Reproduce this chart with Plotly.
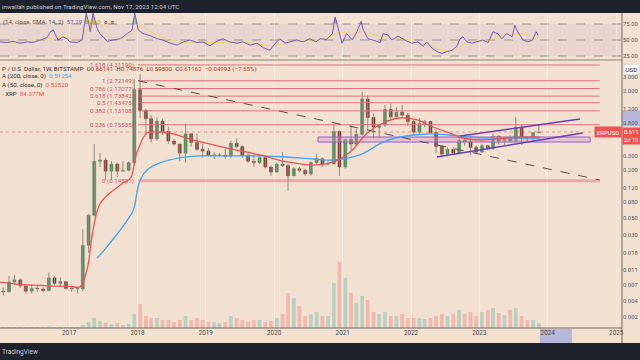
import math
from datetime import datetime, timedelta
import plotly.graph_objects as go

# ---------------- data ----------------
months = [f"{y}-{m:02d}" for y in range(2016, 2024) for m in range(1, 13)][:95]
opens = [0.0059, 0.0058, 0.0077, 0.0082, 0.0069, 0.0059, 0.0064, 0.0063, 0.0060, 0.0087, 0.0074, 0.0078,
         0.0064, 0.0063, 0.0063, 0.0225, 0.0540, 0.2600, 0.2700, 0.1950, 0.2400, 0.1950, 0.2000, 0.2500,
         2.10, 1.15, 0.90, 0.50, 0.84, 0.62, 0.47, 0.43, 0.33, 0.58, 0.45, 0.37,
         0.35, 0.31, 0.31, 0.31, 0.30, 0.44, 0.40, 0.31, 0.26, 0.25, 0.29, 0.22,
         0.19, 0.24, 0.23, 0.17, 0.21, 0.20, 0.18, 0.25, 0.28, 0.24, 0.24, 0.62,
         0.22, 0.49, 0.43, 0.57, 1.60, 0.93, 0.70, 0.75, 1.18, 0.95, 1.09, 1.00,
         0.83, 0.61, 0.78, 0.83, 0.60, 0.40, 0.32, 0.37, 0.33, 0.48, 0.46, 0.39,
         0.34, 0.41, 0.38, 0.54, 0.47, 0.51, 0.47, 0.70, 0.52, 0.51, 0.60]
highs = [0.0066, 0.0092, 0.0095, 0.0086, 0.0070, 0.0072, 0.0069, 0.0066, 0.0102, 0.0092, 0.0088, 0.0079,
         0.0070, 0.0066, 0.0360, 0.0560, 0.4300, 0.3300, 0.2900, 0.2600, 0.2500, 0.2600, 0.2600, 2.850,
         3.30, 1.20, 0.99, 0.94, 0.90, 0.71, 0.50, 0.43, 0.78, 0.59, 0.58, 0.43,
         0.38, 0.34, 0.33, 0.38, 0.47, 0.51, 0.41, 0.33, 0.32, 0.31, 0.31, 0.23,
         0.25, 0.34, 0.24, 0.22, 0.22, 0.21, 0.26, 0.32, 0.29, 0.26, 0.78, 0.64,
         0.50, 0.76, 0.66, 1.96, 1.77, 1.05, 0.76, 1.35, 1.41, 1.25, 1.35, 1.06,
         0.87, 0.91, 0.87, 0.85, 0.65, 0.42, 0.39, 0.39, 0.56, 0.51, 0.55, 0.41,
         0.43, 0.42, 0.58, 0.55, 0.53, 0.56, 0.94, 0.75, 0.53, 0.60, 0.75]
lows = [0.0052, 0.0057, 0.0070, 0.0065, 0.0055, 0.0055, 0.0058, 0.0057, 0.0059, 0.0071, 0.0068, 0.0062,
        0.0058, 0.0055, 0.0059, 0.0180, 0.0520, 0.2200, 0.1500, 0.1500, 0.1650, 0.1900, 0.1950, 0.2300,
        0.92, 0.56, 0.45, 0.47, 0.56, 0.43, 0.41, 0.26, 0.25, 0.40, 0.35, 0.29,
        0.30, 0.28, 0.30, 0.28, 0.29, 0.38, 0.29, 0.25, 0.22, 0.24, 0.21, 0.17,
        0.19, 0.22, 0.11, 0.17, 0.19, 0.17, 0.17, 0.24, 0.22, 0.23, 0.24, 0.17,
        0.21, 0.36, 0.41, 0.55, 0.65, 0.51, 0.51, 0.71, 0.85, 0.92, 0.91, 0.73,
        0.55, 0.58, 0.70, 0.60, 0.33, 0.29, 0.30, 0.32, 0.32, 0.41, 0.31, 0.33,
        0.34, 0.36, 0.36, 0.42, 0.42, 0.45, 0.46, 0.42, 0.47, 0.48, 0.59]
closes = [0.0058, 0.0077, 0.0082, 0.0069, 0.0059, 0.0064, 0.0063, 0.0060, 0.0087, 0.0074, 0.0078, 0.0064,
          0.0063, 0.0063, 0.0225, 0.0540, 0.2600, 0.2700, 0.1950, 0.2400, 0.1950, 0.2000, 0.2500, 2.100,
          1.15, 0.90, 0.50, 0.84, 0.62, 0.47, 0.43, 0.33, 0.58, 0.45, 0.37, 0.35,
          0.31, 0.31, 0.31, 0.30, 0.44, 0.40, 0.31, 0.26, 0.25, 0.29, 0.22, 0.19,
          0.24, 0.23, 0.17, 0.21, 0.20, 0.18, 0.25, 0.28, 0.24, 0.24, 0.62, 0.22,
          0.49, 0.43, 0.57, 1.60, 0.93, 0.70, 0.75, 1.18, 0.95, 1.09, 1.00, 0.83,
          0.61, 0.78, 0.83, 0.60, 0.40, 0.32, 0.37, 0.33, 0.48, 0.46, 0.39, 0.34,
          0.41, 0.38, 0.54, 0.47, 0.51, 0.47, 0.70, 0.52, 0.51, 0.60, 0.61162]
volume_m = [40, 40, 40, 40, 40, 40, 40, 40, 60, 40, 40, 40,
            40, 40, 120, 240, 400, 280, 200, 160, 200, 120, 160, 560,
            960, 480, 400, 400, 320, 320, 240, 320, 480, 320, 400, 320,
            240, 240, 200, 240, 480, 400, 320, 240, 320, 320, 240, 280,
            400, 560, 1400, 1200, 880, 480, 560, 640, 480, 480, 1800, 2640,
            2000, 1400, 1000, 1280, 1120, 640, 560, 640, 480, 480, 560, 400,
            400, 400, 360, 400, 480, 560, 480, 560, 720, 560, 640, 480,
            640, 720, 800, 600, 520, 720, 800, 480, 320, 320, 200]

sma200_years = [2017.41, 2017.60, 2017.94, 2017.99, 2018.04, 2018.14, 2018.33, 2018.62, 2018.92, 2019.40,
                2019.79, 2020.19, 2020.57, 2020.86, 2021.25, 2021.59, 2021.84, 2022.23, 2022.57, 2023.05,
                2023.55, 2023.89]
sma200_vals = [0.0155, 0.0241, 0.063, 0.103, 0.151, 0.202, 0.248, 0.287, 0.304, 0.304,
               0.304, 0.295, 0.278, 0.270, 0.313, 0.456, 0.528, 0.576, 0.560, 0.513,
               0.513, 0.5125]
sma50_years = [2015.99, 2016.30, 2016.70, 2017.00, 2017.16, 2017.26, 2017.35, 2017.45, 2017.60, 2017.79,
               2017.90, 2017.99, 2018.14, 2018.29, 2018.48, 2018.81, 2019.31, 2019.79, 2020.19, 2020.57,
               2020.86, 2021.11, 2021.36, 2021.59, 2021.84, 2022.09, 2022.32, 2022.57, 2022.76, 2023.05,
               2023.40, 2023.78, 2023.89]
sma50_vals = [0.0077, 0.0072, 0.0069, 0.0068, 0.0067, 0.0109, 0.0351, 0.0750, 0.103, 0.138,
              0.160, 0.331, 0.593, 0.611, 0.593, 0.484, 0.383, 0.313, 0.255, 0.233,
              0.255, 0.341, 0.593, 0.795, 0.919, 0.867, 0.707, 0.593, 0.513, 0.484,
              0.513, 0.528, 0.5252]

rsi_years = [2015.99, 2016.09, 2016.18, 2016.28, 2016.39, 2016.47, 2016.58, 2016.68, 2016.72, 2016.77,
             2016.80, 2016.84, 2016.91, 2016.97, 2017.01, 2017.12, 2017.19, 2017.22, 2017.25, 2017.28,
             2017.31, 2017.35, 2017.38, 2017.41, 2017.45, 2017.50, 2017.56, 2017.64, 2017.75, 2017.85,
             2017.92, 2017.96, 2018.01, 2018.08, 2018.18, 2018.29, 2018.37, 2018.48, 2018.58, 2018.67,
             2018.77, 2018.87, 2018.96, 2019.06, 2019.16, 2019.25, 2019.35, 2019.46, 2019.54, 2019.65,
             2019.75, 2019.84, 2019.94, 2020.01, 2020.08, 2020.16, 2020.23, 2020.33, 2020.42, 2020.52,
             2020.61, 2020.67, 2020.77, 2020.85, 2020.89, 2020.93, 2020.99, 2021.06, 2021.14, 2021.21,
             2021.27, 2021.30, 2021.37, 2021.44, 2021.55, 2021.59, 2021.66, 2021.72, 2021.81, 2021.91,
             2022.01, 2022.10, 2022.18, 2022.23, 2022.31, 2022.38, 2022.45, 2022.53, 2022.60, 2022.67,
             2022.72, 2022.76, 2022.82, 2022.89, 2022.96, 2023.05, 2023.13, 2023.20, 2023.27, 2023.33,
             2023.40, 2023.48, 2023.52, 2023.56, 2023.64, 2023.71, 2023.78, 2023.83, 2023.86]
rsi_vals = [47, 46, 48, 45, 47, 46, 50, 54, 62, 66,
            58, 50, 55, 52, 47, 46, 50, 70, 92, 80,
            63, 92, 78, 68, 60, 55, 48, 50, 52, 60,
            65, 92, 66, 60, 57, 52, 50, 45, 42, 47,
            50, 46, 47, 41, 48, 52, 47, 45, 47, 42,
            45, 38, 34, 44, 52, 45, 47, 50, 47, 52,
            47, 52, 51, 60, 86, 68, 45, 60, 50, 63,
            79, 66, 52, 50, 46, 60, 58, 50, 56, 50,
            45, 47, 40, 47, 37, 32, 29, 32, 34, 40,
            52, 55, 47, 45, 47, 50, 46, 63, 60, 52,
            60, 55, 73, 63, 50, 47, 50, 63, 57.29]
rsi_sma_years = [2015.99, 2016.40, 2016.70, 2016.90, 2017.10, 2017.20, 2017.30, 2017.40, 2017.50, 2017.60,
                 2017.80, 2017.95, 2018.05, 2018.20, 2018.40, 2018.60, 2018.90, 2019.20, 2019.50, 2019.80,
                 2020.00, 2020.20, 2020.50, 2020.75, 2020.95, 2021.10, 2021.30, 2021.45, 2021.70, 2021.90,
                 2022.10, 2022.30, 2022.45, 2022.60, 2022.75, 2022.90, 2023.10, 2023.30, 2023.50, 2023.65,
                 2023.80, 2023.86]
rsi_sma_vals = [47, 47, 52, 56, 50, 55, 70, 78, 68, 55,
                54, 62, 72, 62, 52, 47, 47, 46, 47, 43,
                41, 46, 49, 52, 62, 60, 63, 58, 54, 52,
                46, 40, 34, 33, 42, 48, 48, 56, 58, 60,
                53, 54]

fib_high = 2.72149
fib_low = 0.14801
fib_levels = [1.618, 1, 0.786, 0.618, 0.5, 0.382, 0.236, 0]
fib_years = [2018.01, 2024.76]

trend_years = [2018.01, 2024.76]
trend_prices = [2.72149, 0.151]
upper_ch_years = [2022.72, 2024.47]
upper_ch_prices = [0.544, 0.893]
lower_ch_years = [2022.38, 2024.51]
lower_ch_prices = [0.295, 0.593]
zone_years = [2020.64, 2024.62]
zone_prices = [0.456, 0.528]
last_price = 0.61162

year_ticks = list(range(2016, 2026))
price_ticks = [3.0, 2.0, 1.2, 0.8, 0.3, 0.2, 0.12, 0.08, 0.05, 0.03, 0.018, 0.011, 0.007, 0.0045, 0.0028]
price_tick_text = ["3.000", "2.000", "1.200", "0.800", "0.300", "0.200", "0.120", "0.080",
                   "0.050", "0.030", "0.018", "0.011", "0.007", "0.004", "0.002"]
rsi_ticks = [75, 50, 25]
rsi_tick_text = ["75.00", "50.00", "25.00"]

# ---------------- helpers ----------------
def from_year(y):
    yr = int(math.floor(y))
    start = datetime(yr, 1, 1)
    end = datetime(yr + 1, 1, 1)
    return start + (end - start) * (y - yr)

W, H = 640, 360
TOP, BOT, RIGHT = 13, 328, 622
PH = BOT - TOP
main_top = (BOT - 60) / PH
ymin = math.log10(0.611) - 196 / 79
ymax = math.log10(0.611) + 72 / 79
xr = [from_year(2015.9912), from_year(2025.0848)]

def pp(py):  # pixel y -> paper
    return (BOT - py) / PH

def px_x(x):
    return x / RIGHT

def price_paper(p):
    return (math.log10(p) - ymin) / (ymax - ymin) * main_top

BG = "#f2e1d1"
UP, DN, WICK = "#4e8b57", "#7a3b2e", "#8e8b84"
DAY = 86400000

cx = [datetime(int(m[:4]), int(m[5:]), 15) for m in months]
up = [c >= o for o, c in zip(opens, closes)]

fig = go.Figure()

# volume
fig.add_trace(go.Bar(x=cx, y=volume_m, yaxis="y3", width=20 * DAY,
                     marker=dict(color=["rgba(38,166,154,0.28)" if u else "rgba(239,83,80,0.28)" for u in up],
                                 line=dict(width=0)), hoverinfo="skip"))

# fib lines
fx = [from_year(v) for v in fib_years]
for lv in fib_levels:
    p = fib_low + lv * (fib_high - fib_low)
    if lv == 0:
        fig.add_trace(go.Scatter(x=fx, y=[p, p], mode="lines",
                                 line=dict(color="rgba(229,115,125,0.5)", width=3), hoverinfo="skip"))
    else:
        fig.add_trace(go.Scatter(x=fx, y=[p, p], mode="lines",
                                 line=dict(color="#e0707e", width=1), hoverinfo="skip"))

# zone rectangle
zx = [from_year(v) for v in zone_years]
fig.add_trace(go.Scatter(x=[zx[0], zx[1], zx[1], zx[0], zx[0]],
                         y=[zone_prices[0], zone_prices[0], zone_prices[1], zone_prices[1], zone_prices[0]],
                         mode="lines", fill="toself", fillcolor="rgba(214,150,210,0.45)",
                         line=dict(color="#9a5fc4", width=1), hoverinfo="skip"))

# candles: wicks + bodies
wx, wy = [], []
for d, h, l in zip(cx, highs, lows):
    wx += [d, d, None]
    wy += [l, h, None]
fig.add_trace(go.Scatter(x=wx, y=wy, mode="lines", line=dict(color=WICK, width=1), hoverinfo="skip"))
base = [min(o, c) for o, c in zip(opens, closes)]
hgt = [max(abs(c - o), 0.012 * min(o, c)) for o, c in zip(opens, closes)]
fig.add_trace(go.Bar(x=cx, y=hgt, base=base, width=16 * DAY,
                     marker=dict(color=[UP if u else DN for u in up],
                                 line=dict(color=[UP if u else DN for u in up], width=0.5)),
                     hoverinfo="skip"))

# moving averages
fig.add_trace(go.Scatter(x=[from_year(v) for v in sma200_years], y=sma200_vals, mode="lines",
                         line=dict(color="#42a5f5", width=1.3, shape="spline"), hoverinfo="skip"))
fig.add_trace(go.Scatter(x=[from_year(v) for v in sma50_years], y=sma50_vals, mode="lines",
                         line=dict(color="#ef5350", width=1.3, shape="spline"), hoverinfo="skip"))

# drawings
fig.add_trace(go.Scatter(x=[from_year(v) for v in trend_years], y=trend_prices, mode="lines",
                         line=dict(color="#55504a", width=1, dash="dash"), hoverinfo="skip"))
fig.add_trace(go.Scatter(x=[from_year(v) for v in upper_ch_years], y=upper_ch_prices, mode="lines",
                         line=dict(color="#6a3fb8", width=1.5), hoverinfo="skip"))
fig.add_trace(go.Scatter(x=[from_year(v) for v in lower_ch_years], y=lower_ch_prices, mode="lines",
                         line=dict(color="#6a3fb8", width=1.5), hoverinfo="skip"))
fig.add_trace(go.Scatter(x=xr, y=[last_price, last_price], mode="lines",
                         line=dict(color="rgba(239,83,80,0.55)", width=1, dash="dot"), hoverinfo="skip"))

# RSI pane
rx = [from_year(v) for v in rsi_years]
fig.add_trace(go.Scatter(x=rx, y=[75] * len(rx), yaxis="y2", mode="lines",
                         line=dict(width=0), hoverinfo="skip"))
fig.add_trace(go.Scatter(x=rx, y=[max(v, 75) for v in rsi_vals], yaxis="y2", mode="lines",
                         fill="tonexty", fillcolor="rgba(80,170,90,0.5)", line=dict(width=0), hoverinfo="skip"))
fig.add_trace(go.Scatter(x=[from_year(v) for v in rsi_sma_years], y=rsi_sma_vals, yaxis="y2", mode="lines",
                         line=dict(color="rgba(250,210,60,0.75)", width=1, shape="spline"), hoverinfo="skip"))
fig.add_trace(go.Scatter(x=rx, y=rsi_vals, yaxis="y2", mode="lines",
                         line=dict(color="#7e57c2", width=1), hoverinfo="skip"))

shapes = [
    dict(type="rect", xref="paper", yref="y2", x0=0, x1=1, y0=25, y1=75,
         fillcolor="rgba(126,87,194,0.08)", line=dict(width=0), layer="below"),
    *[dict(type="line", xref="paper", yref="y2", x0=0, x1=1, y0=v, y1=v,
           line=dict(color="#9a948e", width=1, dash="dash"), layer="below") for v in rsi_ticks],
    dict(type="line", xref="paper", yref="paper", x0=0, x1=1, y0=main_top, y1=main_top,
         line=dict(color="#8a8480", width=1)),
    dict(type="line", xref="paper", yref="paper", x0=1, x1=1, y0=pp(343), y1=1,
         line=dict(color="#6e6a66", width=1)),
    dict(type="line", xref="paper", yref="paper", x0=0, x1=1, y0=0, y1=0,
         line=dict(color="#6e6a66", width=1)),
    dict(type="rect", xref="paper", yref="paper", x0=1, x1=W / RIGHT, y0=price_paper(0.72), y1=price_paper(1.15),
         fillcolor="rgba(150,160,222,0.65)", line=dict(width=0), layer="below"),
    dict(type="rect", xref="x", yref="paper", x0=from_year(2023.886), x1=from_year(2024.354),
         y0=pp(343), y1=pp(329), fillcolor="rgba(150,160,222,0.65)", line=dict(width=0), layer="below"),
    dict(type="rect", xref="paper", yref="paper", x0=0, x1=W / RIGHT, y0=1, y1=pp(0),
         fillcolor="#1e222d", line=dict(width=0), layer="below"),
    dict(type="rect", xref="paper", yref="paper", x0=0, x1=W / RIGHT, y0=pp(H), y1=pp(343),
         fillcolor="#1e222d", line=dict(width=0), layer="below"),
]

F = "Roboto"
FS = 6.2
ann = [
    dict(x=0, y=pp(6.5), xref="paper", yref="paper", xanchor="left", yanchor="middle", showarrow=False,
         text="inwallah published on TradingView.com, Nov 17, 2023 12:04 UTC",
         font=dict(family=F, size=FS, color="#c9ccd4")),
    dict(x=px_x(1), y=pp(21.5), xref="paper", yref="paper", xanchor="left", yanchor="middle", showarrow=False,
         text="(14, close, SMA, 14, 2)  <span style='color:#7e57c2'>57.29</span>  "
              "<span style='color:#d4a800'>54.60</span>  ø  ø",
         font=dict(family=F, size=FS, color="#5a4f4a")),
    dict(x=0, y=pp(68.5), xref="paper", yref="paper", xanchor="left", yanchor="middle", showarrow=False,
         text="P / U.S. Dollar, 1W, BITSTAMP  O<span style='color:#c0392b'>0.66141</span>  "
              "H<span style='color:#c0392b'>0.74876</span>  L<span style='color:#c0392b'>0.59500</span>  "
              "C<span style='color:#c0392b'>0.61162</span>  <span style='color:#c0392b'>−0.04993 (−7.55%)</span>",
         font=dict(family=F, size=FS, color="#3a3330")),
    dict(x=0, y=pp(76.5), xref="paper", yref="paper", xanchor="left", yanchor="middle", showarrow=False,
         text="A (200, close, 0)  <span style='color:#42a5f5'>0.51254</span>",
         font=dict(family=F, size=FS, color="#3a3330")),
    dict(x=0, y=pp(85), xref="paper", yref="paper", xanchor="left", yanchor="middle", showarrow=False,
         text="A (50, close, 0)  <span style='color:#ef5350'>0.52520</span>",
         font=dict(family=F, size=FS, color="#3a3330")),
    dict(x=0, y=pp(93.5), xref="paper", yref="paper", xanchor="left", yanchor="middle", showarrow=False,
         text="· XRP  <span style='color:#ef5350'>84.377M</span>",
         font=dict(family=F, size=FS, color="#3a3330")),
    dict(x=0, y=pp(351.5), xref="paper", yref="paper", xanchor="left", yanchor="middle", showarrow=False,
         text="TradingView", font=dict(family=F, size=6.5, color="#c9ccd4")),
    dict(x=px_x(624), y=pp(69), xref="paper", yref="paper", xanchor="left", yanchor="middle", showarrow=False,
         text="USD", bgcolor="#ffffff", bordercolor="#d6d0ca", borderwidth=0.5, borderpad=1,
         font=dict(family=F, size=FS, color="#131722")),
    dict(x=1, y=math.log10(last_price), xref="paper", yref="y", xanchor="right", yanchor="middle",
         showarrow=False, text="XRPUSD", bgcolor="#ef5350", borderpad=1.5,
         font=dict(family=F, size=6, color="#ffffff")),
    dict(x=1, y=math.log10(0.707), xref="paper", yref="y", xanchor="left", yanchor="top", align="left",
         showarrow=False, text="0.611<br>2d 12", bgcolor="#ef5350", borderpad=1,
         font=dict(family=F, size=5.8, color="#ffffff")),
]
for lv in fib_levels:
    p = fib_low + lv * (fib_high - fib_low)
    ann.append(dict(x=fx[0], y=math.log10(p), xref="x", yref="y", xanchor="right", yanchor="middle",
                    xshift=-2, showarrow=False, text=f"{lv:g} ({p:.5f})",
                    font=dict(family=F, size=FS, color="#d0506a")))

fig.update_layout(
    width=W, height=H, margin=dict(l=0, r=W - RIGHT, t=TOP, b=H - BOT),
    paper_bgcolor=BG, plot_bgcolor=BG, showlegend=False, barmode="overlay",
    font=dict(family=F, size=6.5, color="#5d5955"),
    xaxis=dict(type="date", range=xr, tickvals=[datetime(y, 1, 1) for y in year_ticks],
               ticktext=[str(y) for y in year_ticks], showgrid=True, gridcolor="rgba(255,255,255,0.35)",
               zeroline=False, showline=False, ticks="", tickfont=dict(size=6.3, color="#4a4642"),
               anchor="y"),
    yaxis=dict(type="log", domain=[0, main_top], range=[ymin, ymax], side="right", tickvals=price_ticks,
               ticktext=price_tick_text, showgrid=False, zeroline=False, ticks="",
               tickfont=dict(size=5.9, color="#5d5955"), anchor="x"),
    yaxis2=dict(domain=[main_top, 1], range=[18.75, 92.19], side="right", tickvals=rsi_ticks,
                ticktext=rsi_tick_text, showgrid=False, zeroline=False, ticks="",
                tickfont=dict(size=5.9, color="#5d5955"), anchor="x"),
    yaxis3=dict(overlaying="y", range=[0, 268 * 40], visible=False),
    shapes=shapes, annotations=ann,
)

fig.write_html("out.html", config={"displayModeBar": False},
               post_script="document.body.style.margin='0';document.body.style.overflow='hidden';")
